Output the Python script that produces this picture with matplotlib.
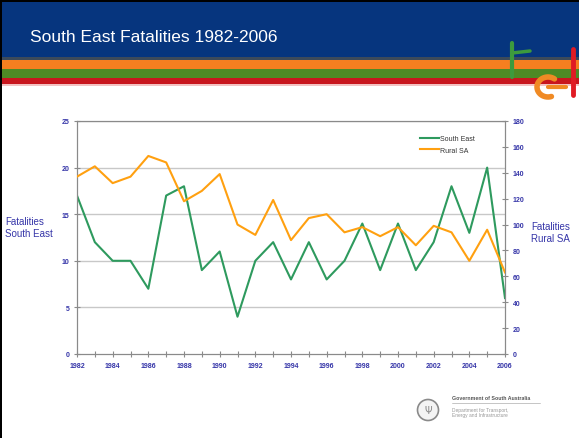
import matplotlib
matplotlib.use('Agg')
import matplotlib.pyplot as plt
import matplotlib.patches as mpatches
from matplotlib.lines import Line2D
import numpy as np

plt.rcParams['font.family'] = ['Liberation Sans', 'DejaVu Sans']

# data
years = list(range(1982, 2007))
south_east = [17, 12, 10, 10, 7, 17, 18, 9, 11, 4, 10, 12, 8, 12,
              8, 10, 14, 9, 14, 9, 12, 18, 13, 20, 6]
rural_sa = [137, 145, 132, 137, 153, 148, 118, 126, 139, 100, 92, 119, 88, 105,
            108, 94, 98, 91, 98, 84, 99, 94, 72, 96, 63]
year_labels = [str(y) if (y - 1982) % 2 == 0 else '' for y in years]
left_ticks = [0, 5, 10, 15, 20, 25]
right_ticks = list(range(0, 181, 20))

W, H = 579, 439
fig = plt.figure(figsize=(W / 100, H / 100), dpi=100)
fig.patch.set_facecolor('white')


def fx(x):
    return x / W


def fy(y):
    return 1 - y / H


def band(y0, y1, color, x0=0, x1=W):
    # rectangle in pixel coords (y measured from top)
    r = mpatches.Rectangle((fx(x0), fy(y1)), (x1 - x0) / W, (y1 - y0) / H,
                           transform=fig.transFigure, color=color, zorder=0, lw=0)
    fig.patches.append(r)


def pline(xs, ys, color, lw):
    fig.lines.append(Line2D([fx(x) for x in xs], [fy(y) for y in ys],
                            transform=fig.transFigure, color=color, lw=lw,
                            solid_capstyle='round'))


# header
band(0, 60, '#06357e')
band(0, 3, '#000000')
band(58, 61, '#3c4a5a')
band(61, 70, '#f57f20')
band(70, 79, '#4e8a25')
band(79, 85, '#c8161e')
band(85, 87, '#f3c2c2')
band(0, H, '#000000', 0, 1.5)

fig.text(fx(30), fy(37), 'South East Fatalities 1982-2006', color='white',
         fontsize=12.5, va='center', ha='left')

# corner logo strokes
pline([512, 512], [44, 78], '#3d9a3d', 3)
pline([512, 530], [54, 52], '#3d9a3d', 2.5)
pline([573, 573], [50, 96], '#e01b24', 3.5)
theta = np.linspace(0.3 * np.pi, 1.6 * np.pi, 30)
pline(list(548 + 11 * np.cos(theta)), list(88 - 10 * np.sin(theta)), '#f08a24', 4)
pline([548, 566], [88, 88], '#f08a24', 3)

# main axes
ax = fig.add_axes([fx(77), fy(355), 428 / W, 233 / H])
ax.set_facecolor('none')
ax.plot(years, south_east, color='#2e9a5e', lw=1.5, zorder=3)
ax.set_xlim(1982, 2006)
ax.set_ylim(0, 25)
ax.set_yticks(left_ticks)
ax.set_xticks(years)
ax.set_xticklabels(year_labels)
for v in left_ticks[1:]:
    ax.axhline(v, color='#c8c8c8', lw=1, zorder=1)

label_col = '#3535a8'
for s in ax.spines.values():
    s.set_color('#8a8a8a')
ax.tick_params(axis='both', colors='#8a8a8a', labelcolor=label_col, labelsize=5,
               direction='inout', length=4)
for t in ax.get_xticklabels() + ax.get_yticklabels():
    t.set_fontweight('bold')

ax2 = ax.twinx()
ax2.plot(years, rural_sa, color='#ffa010', lw=1.5, zorder=3)
ax2.set_ylim(0, 180)
ax2.set_yticks(right_ticks)
for s in ax2.spines.values():
    s.set_color('#8a8a8a')
ax2.tick_params(axis='y', colors='#8a8a8a', labelcolor=label_col, labelsize=5,
                direction='inout', length=4)
for t in ax2.get_yticklabels():
    t.set_fontweight('bold')

handles = [Line2D([], [], color='#2e9a5e', lw=1.5),
           Line2D([], [], color='#ffa010', lw=1.5)]
leg = ax2.legend(handles, ['South East', 'Rural SA'], loc='upper left',
                 bbox_to_anchor=(0.787, 0.965), frameon=False, fontsize=5,
                 handlelength=2.7, handletextpad=0.2, labelspacing=0.6)
for t in leg.get_texts():
    t.set_color('#333333')

# axis titles
fig.text(fx(5), fy(228), 'Fatalities\nSouth East', color=label_col, fontsize=7,
         ha='left', va='center', linespacing=1.3)
fig.text(fx(531), fy(233), 'Fatalities\nRural SA', color=label_col, fontsize=7,
         ha='left', va='center', linespacing=1.3)

# footer emblem
circ = mpatches.Ellipse((fx(428), fy(411)), 21 / W, 21 / H, transform=fig.transFigure,
                        facecolor='#f4f4f4', edgecolor='#8a8a8a', lw=1.2)
fig.patches.append(circ)
fig.text(fx(428), fy(411), 'Ψ', color='#8a8a8a', fontsize=7, ha='center', va='center',
         family='DejaVu Sans')
fig.text(fx(452), fy(399), 'Government of South Australia', color='#555555',
         fontsize=3.8, fontweight='bold', ha='left', va='center')
fig.text(fx(452), fy(413), 'Department for Transport,\nEnergy and Infrastructure',
         color='#999999', fontsize=3.5, ha='left', va='center', linespacing=1.2)
pline([452, 540], [404, 404], '#bbbbbb', 0.6)

fig.savefig('out.png', dpi=100)
